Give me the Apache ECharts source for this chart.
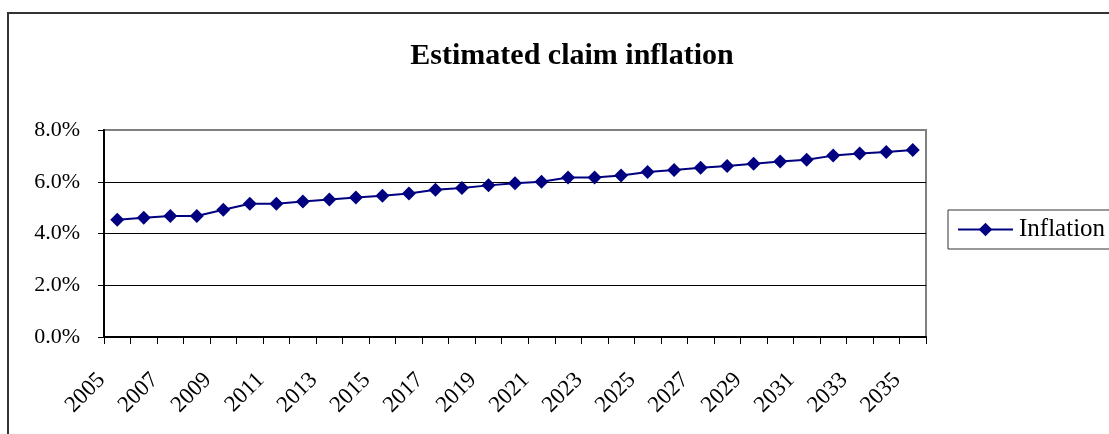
<!DOCTYPE html>
<html>
<head>
<meta charset="utf-8">
<script src="https://cdn.jsdelivr.net/npm/echarts@6/dist/echarts.min.js"></script>
<style>
  html, body { margin: 0; padding: 0; background: #fff; }
  #chart { width: 1109px; height: 434px; }
</style>
</head>
<body>
<div id="chart"></div>
<script>
// years on the x axis
const years = ['2005', '2006', '2007', '2008', '2009', '2010', '2011', '2012', '2013', '2014',
  '2015', '2016', '2017', '2018', '2019', '2020', '2021', '2022', '2023', '2024',
  '2025', '2026', '2027', '2028', '2029', '2030', '2031', '2032', '2033', '2034', '2035'];

// estimated claim inflation, in percent
const inflation = [4.53, 4.61, 4.68, 4.68, 4.92, 5.15, 5.15, 5.24, 5.31, 5.39,
  5.46, 5.55, 5.69, 5.76, 5.86, 5.94, 6.00, 6.16, 6.16, 6.24,
  6.38, 6.45, 6.54, 6.61, 6.70, 6.78, 6.85, 7.01, 7.09, 7.15, 7.23];

const yTicks = [0, 2, 4, 6, 8];

const serif = '"Liberation Serif", "Times New Roman", serif';
const navy = '#000080';

const chart = echarts.init(document.getElementById('chart'));

const option = {
  animation: false,
  backgroundColor: '#fff',
  textStyle: { fontFamily: serif },
  graphic: [
    {
      type: 'rect',
      shape: { x: 8, y: 13, width: 1200, height: 500 },
      style: { fill: 'none', stroke: '#333', lineWidth: 2 },
      silent: true
    }
  ],
  title: {
    text: 'Estimated claim inflation',
    left: 567,
    textAlign: 'center',
    top: 36,
    textStyle: { fontFamily: serif, fontSize: 30, fontWeight: 'bold', color: '#000' }
  },
  legend: {
    left: 948,
    top: 210,
    orient: 'vertical',
    itemWidth: 55,
    itemHeight: 17,
    itemGap: 0,
    padding: [7, 40, 7, 9],
    borderColor: '#333',
    borderWidth: 1,
    textStyle: { fontFamily: serif, fontSize: 25, color: '#000', padding: [0, 0, 0, 1] },
    data: ['Inflation']
  },
  grid: {
    left: 104,
    right: 183,
    top: 130,
    bottom: 97,
    show: true,
    borderColor: '#808080',
    borderWidth: 2,
    containLabel: false
  },
  xAxis: {
    type: 'category',
    data: years,
    boundaryGap: true,
    axisLine: { lineStyle: { color: '#000', width: 2 } },
    axisTick: { show: true, interval: 0, length: 7, lineStyle: { color: '#000', width: 1 } },
    axisLabel: {
      interval: 1,
      rotate: 45,
      margin: 24,
      padding: [0, 22, 0, 0],
      fontFamily: serif,
      fontSize: 23,
      color: '#000'
    },
    splitLine: { show: false }
  },
  yAxis: {
    type: 'value',
    min: yTicks[0],
    max: yTicks[yTicks.length - 1],
    interval: 2,
    axisLine: { show: true, lineStyle: { color: '#000', width: 2 } },
    axisTick: { show: true, length: 6, lineStyle: { color: '#000' } },
    axisLabel: {
      margin: 24,
      fontFamily: serif,
      fontSize: 22,
      color: '#000',
      formatter: v => v.toFixed(1) + '%'
    },
    splitLine: {
      show: true,
      lineStyle: { color: ['#000', '#000', '#000', '#000', '#808080'], width: 1 }
    }
  },
  series: [
    {
      name: 'Inflation',
      type: 'line',
      data: inflation,
      symbol: 'diamond',
      symbolSize: 14,
      showAllSymbol: true,
      lineStyle: { color: navy, width: 2 },
      itemStyle: { color: navy }
    }
  ]
};

chart.setOption(option);
</script>
</body>
</html>
